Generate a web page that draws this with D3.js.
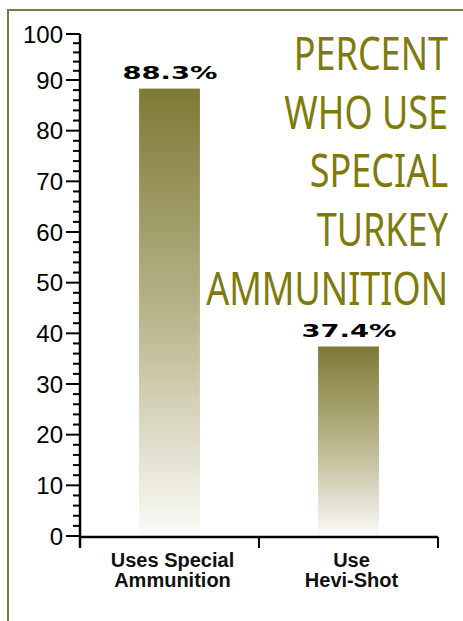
<!DOCTYPE html>
<html>
<head>
<meta charset="utf-8">
<script src="https://cdn.jsdelivr.net/npm/d3@7"></script>
<style>
  html, body { margin: 0; padding: 0; background: #fff; }
  svg { display: block; }
</style>
</head>
<body>
<div id="chart"></div>
<script>
// Chart data
const categories = [["Uses Special", "Ammunition"], ["Use", "Hevi-Shot"]];
const values = [88.3, 37.4];
const valueLabels = ["88.3%", "37.4%"];
const yTicks = [0, 10, 20, 30, 40, 50, 60, 70, 80, 90, 100];
const titleLines = ["PERCENT", "WHO USE", "SPECIAL", "TURKEY", "AMMUNITION"];

const width = 463;
const height = 621;
const olive = "#7f7a0c";

const svg = d3.select("#chart")
    .append("svg")
    .attr("width", width)
    .attr("height", height);

// frame lines (top + left)
svg.append("path")
    .attr("d", `M8,${height} V10 H${width}`)
    .attr("fill", "none")
    .attr("stroke", "#7e7a3e")
    .attr("stroke-width", 2);

// gradient for bars
const grad = svg.append("defs").append("linearGradient")
    .attr("id", "barGrad")
    .attr("x1", 0).attr("y1", 0).attr("x2", 0).attr("y2", 1);
grad.append("stop").attr("offset", "0%").attr("stop-color", "#7e7a35");
grad.append("stop").attr("offset", "50%").attr("stop-color", "#b8b48a");
grad.append("stop").attr("offset", "100%").attr("stop-color", "#fbfbf8");

// scales (the top segment of the original axis is a bit compressed)
const y = d3.scaleLinear()
    .domain([0, 90, 100])
    .range([536, 80, 34]);

const x = d3.scaleBand()
    .domain(d3.range(values.length))
    .range([80, 438])
    .paddingInner(0.66)
    .paddingOuter(0.33);

// bars
svg.selectAll("rect.bar")
    .data(values)
    .enter()
    .append("rect")
    .attr("class", "bar")
    .attr("x", (d, i) => x(i))
    .attr("y", d => y(d))
    .attr("width", x.bandwidth())
    .attr("height", d => y(0) - y(d))
    .attr("fill", "url(#barGrad)");

// value labels
svg.selectAll("text.val")
    .data(values)
    .enter()
    .append("text")
    .attr("class", "val")
    .attr("x", (d, i) => x(i) + x.bandwidth() / 2 - 47)
    .attr("y", d => y(d) - 10)
    .attr("textLength", 95)
    .attr("lengthAdjust", "spacingAndGlyphs")
    .style("font-family", "'DejaVu Sans', sans-serif")
    .style("font-weight", "bold")
    .style("font-size", "18.5px")
    .attr("fill", "#000")
    .text((d, i) => valueLabels[i]);

// y axis
const yAxis = svg.append("g");
yAxis.append("line")
    .attr("x1", 80).attr("x2", 80)
    .attr("y1", y(100)).attr("y2", 548)
    .attr("stroke", "#000").attr("stroke-width", 2.5);

const minor = d3.range(0, 100, 2).filter(v => v % 10 !== 0);
yAxis.selectAll("line.minor")
    .data(minor)
    .enter()
    .append("line")
    .attr("x1", 73).attr("x2", 80)
    .attr("y1", d => y(d)).attr("y2", d => y(d))
    .attr("stroke", "#000").attr("stroke-width", 2);

yAxis.selectAll("line.major")
    .data(yTicks)
    .enter()
    .append("line")
    .attr("x1", 66).attr("x2", 80)
    .attr("y1", d => y(d)).attr("y2", d => y(d))
    .attr("stroke", "#000").attr("stroke-width", 2);

yAxis.selectAll("text")
    .data(yTicks)
    .enter()
    .append("text")
    .attr("x", 63)
    .attr("y", d => y(d))
    .attr("dy", "0.36em")
    .attr("text-anchor", "end")
    .style("font-family", "'Liberation Sans', Arial, sans-serif")
    .style("font-size", "24px")
    .attr("fill", "#000")
    .text(d => d);

// x axis
const xAxis = svg.append("g");
xAxis.append("line")
    .attr("x1", 79).attr("x2", 438)
    .attr("y1", 537).attr("y2", 537)
    .attr("stroke", "#000").attr("stroke-width", 2.5);

const xBounds = [80, ...d3.range(values.length).map(i => x(i) + x.bandwidth() / 2 + x.step() / 2)];
xAxis.selectAll("line.tick")
    .data(xBounds)
    .enter()
    .append("line")
    .attr("x1", d => d).attr("x2", d => d)
    .attr("y1", 537).attr("y2", 548)
    .attr("stroke", "#000").attr("stroke-width", 2);

// category labels
const cat = xAxis.selectAll("text.cat")
    .data(categories)
    .enter()
    .append("text")
    .attr("class", "cat")
    .attr("text-anchor", "middle")
    .style("font-family", "'Liberation Sans', Arial, sans-serif")
    .style("font-weight", "bold")
    .style("font-size", "20px")
    .attr("fill", "#111");
cat.selectAll("tspan")
    .data((d, i) => d.map(t => ({ t, i })))
    .enter()
    .append("tspan")
    .attr("x", d => x(d.i) + x.bandwidth() / 2 + 3)
    .attr("y", (d, j) => 567 + j * 20)
    .text(d => d.t);

// title
const title = svg.append("g");
title.selectAll("text")
    .data(titleLines)
    .enter()
    .append("text")
    .attr("transform", (d, i) => `translate(448,${70 + i * 58.7}) scale(0.8,1)`)
    .attr("text-anchor", "end")
    .style("font-family", "'Noto Sans', sans-serif")
    .style("font-size", "45px")
    .attr("fill", olive)
    .text(d => d);
</script>
</body>
</html>
